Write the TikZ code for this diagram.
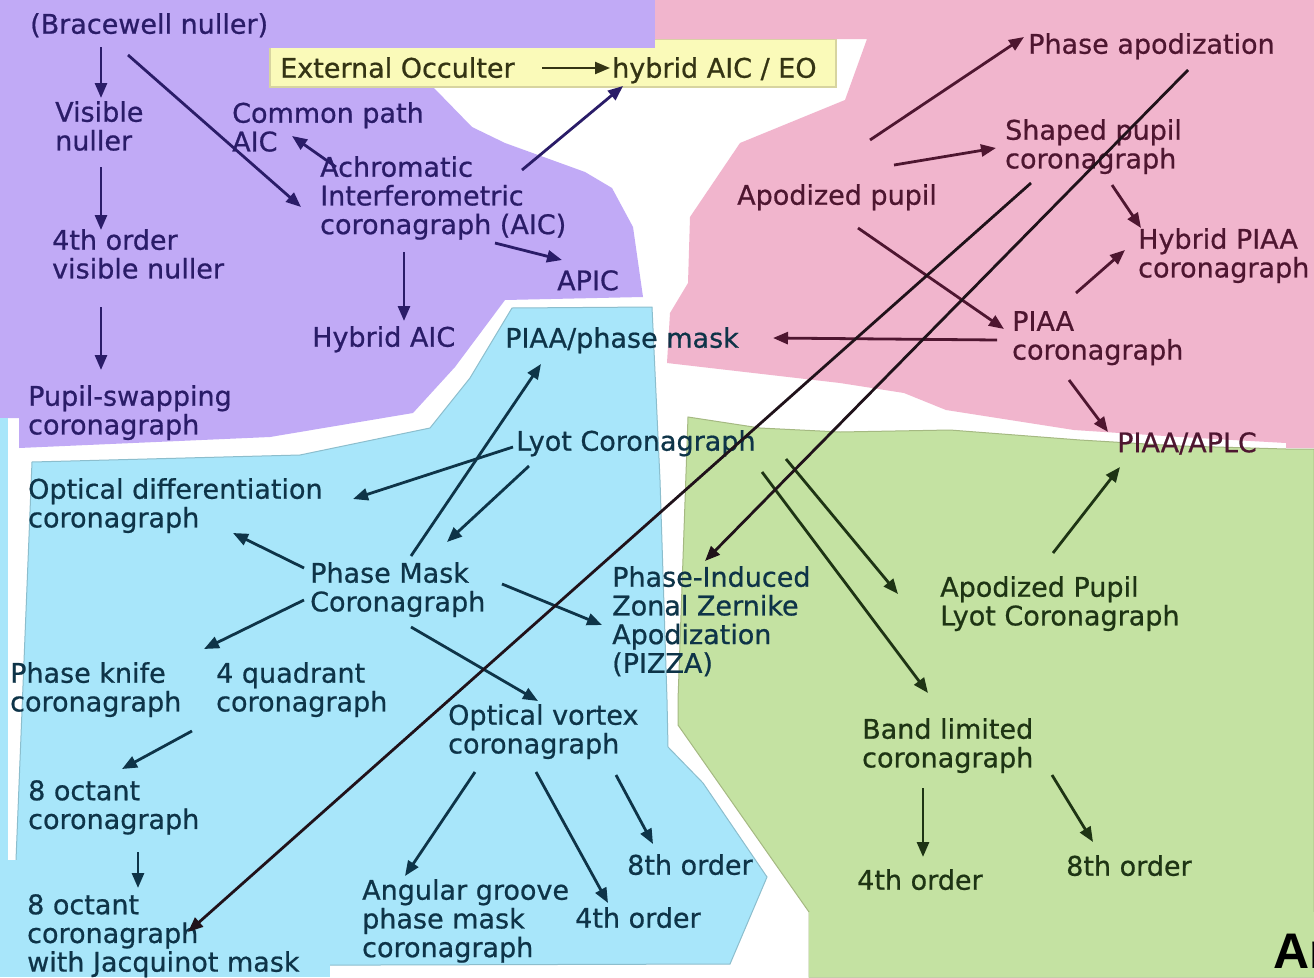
\documentclass[tikz,border=0pt]{standalone}
\usepackage{fontspec}
\setmainfont{DejaVu Sans}[FakeBold=0.7]
\newfontfamily\arfont{Liberation Sans}
\usetikzlibrary{arrows.meta}
\definecolor{purplebg}{RGB}{193,170,246}
\definecolor{pinkbg}{RGB}{241,181,205}
\definecolor{cyanbg}{RGB}{168,230,250}
\definecolor{greenbg}{RGB}{196,226,162}
\definecolor{yellowbg}{RGB}{250,250,185}
\definecolor{yellowedge}{RGB}{215,212,160}
\definecolor{purpletxt}{RGB}{42,28,104}
\definecolor{pinktxt}{RGB}{78,22,48}
\definecolor{cyantxt}{RGB}{14,52,72}
\definecolor{greentxt}{RGB}{30,52,20}
\definecolor{yellowtxt}{RGB}{52,52,20}
\definecolor{crossline}{RGB}{32,18,26}
\definecolor{cyanedge}{RGB}{140,190,205}
\definecolor{greenedge}{RGB}{165,185,130}
\tikzset{
  lbl/.style={anchor=north west, inner sep=0pt, align=left, yshift=-2pt,
    font=\fontsize{27}{28.7}\selectfont},
  ptxt/.style={lbl, text=purpletxt},
  ktxt/.style={lbl, text=pinktxt},
  ctxt/.style={lbl, text=cyantxt},
  gtxt/.style={lbl, text=greentxt},
  ytxt/.style={lbl, text=yellowtxt},
  arr/.style={line width=2.8pt, -{Triangle[length=15pt,width=12pt]}},
  parr/.style={arr, draw=purpletxt},
  karr/.style={arr, draw=pinktxt},
  carr/.style={arr, draw=cyantxt},
  garr/.style={arr, draw=greentxt},
  xarr/.style={arr, draw=crossline},
}
\begin{document}
\begin{tikzpicture}[x=1pt,y=-1pt]
\useasboundingbox (0,0) rectangle (1314,977);
\clip (0,0) rectangle (1314,977);
\fill[white] (0,0) rectangle (1314,977);

% ---------- regions ----------
\fill[purplebg] (0,0) -- (655,0) -- (655,48) -- (434,48) -- (434,88) -- (472,127)
  -- (505,143) -- (585,172) -- (612,188) -- (633,227) -- (643,297) -- (505,300)
  -- (455,367) -- (413,413) -- (270,437) -- (19,448) -- (19,418) -- (0,418) -- cycle;
\filldraw[fill=yellowbg, draw=yellowedge, line width=1.5pt] (270,39) rectangle (836,87);
\fill[purplebg] (0,0) rectangle (655,48);
\fill[pinkbg] (655,0) -- (1314,0) -- (1314,448) -- (1286,448) -- (1286,443)
  -- (1180,437) -- (1074,430) -- (946,410) -- (904,393) -- (840,383) -- (667,363)
  -- (670,313) -- (688,283) -- (690,217) -- (740,143) -- (845,100) -- (867,39)
  -- (655,39) -- cycle;
\filldraw[fill=cyanbg, draw=cyanedge, line width=1pt] (32,462) -- (300,455) -- (430,428)
  -- (470,378) -- (512,308) -- (652,307) -- (660,480) -- (667,700) -- (668,747)
  -- (703,783) -- (767,877) -- (730,964) -- (22,966) -- (16,860) -- cycle;
\fill[cyanbg] (0,418) rectangle (8,860);
\fill[cyanbg] (0,860) rectangle (330,977);
\filldraw[fill=greenbg, draw=greenedge, line width=1pt] (688,417) -- (760,428) -- (840,432)
  -- (950,430) -- (1080,440) -- (1180,446) -- (1286,449) -- (1314,449) -- (1314,977)
  -- (809,977) -- (809,912) -- (678,725) -- (678,700) -- cycle;
\fill[greenbg] (809,912) rectangle (1314,977);

% ---------- purple texts ----------
\node[ptxt] (bracewell) at (30,11) {(Bracewell nuller)};
\node[ptxt] (visible) at (55,99) {Visible\\nuller};
\node[ptxt] (common) at (232,100) {Common path\\AIC};
\node[ptxt] (aic) at (320,154) {Achromatic\\Interferometric\\coronagraph (AIC)};
\node[ptxt] (fourvis) at (52,227) {4th order\\visible nuller};
\node[ptxt] (apic) at (557,268) {APIC};
\node[ptxt] (hybaic) at (312,324) {Hybrid AIC};
\node[ptxt] (pupilswap) at (28,383) {Pupil-swapping\\coronagraph};
\node[ytxt] (extocc) at (280,55) {External Occulter};
\node[ytxt] (hybeo) at (612,55) {hybrid AIC / EO};

% ---------- pink texts ----------
\node[ktxt] (phapod) at (1028,31) {Phase apodization};
\node[ktxt] (shaped) at (1005,117) {Shaped pupil\\coronagraph};
\node[ktxt] (apodpup) at (737,182) {Apodized pupil};
\node[ktxt] (hybpiaa) at (1138,226) {Hybrid PIAA\\coronagraph};
\node[ktxt] (piaa) at (1012,309) {PIAA\\coronagraph};
\node[ktxt] (piaaaplc) at (1117,430) {PIAA/APLC};

% ---------- cyan texts ----------
\node[ctxt] (piaaphase) at (505,325) {PIAA/phase mask};
\node[ctxt] (lyot) at (516,428) {Lyot Coronagraph};
\node[ctxt] (optdiff) at (28,476) {Optical differentiation\\coronagraph};
\node[ctxt] (phasemask) at (310,560) {Phase Mask\\Coronagraph};
\node[ctxt] (knife) at (10,660) {Phase knife\\coronagraph};
\node[ctxt] (quad) at (216,660) {4 quadrant\\coronagraph};
\node[ctxt] (vortex) at (448,702) {Optical vortex\\coronagraph};
\node[ctxt] (octant) at (28,778) {8 octant\\coronagraph};
\node[ctxt] (ceighth) at (627,852) {8th order};
\node[ctxt] (groove) at (362,877) {Angular groove\\phase mask\\coronagraph};
\node[ctxt] (cfourth) at (575,905) {4th order};
\node[ctxt] (jacq) at (27,892) {8 octant\\coronagraph\\with Jacquinot mask};
\node[ctxt] (pizza) at (612,564) {Phase-Induced\\Zonal Zernike\\Apodization\\(PIZZA)};

% ---------- green texts ----------
\node[gtxt] (aplc) at (940,574) {Apodized Pupil\\Lyot Coronagraph};
\node[gtxt] (band) at (862,716) {Band limited\\coronagraph};
\node[gtxt] (gfourth) at (857,867) {4th order};
\node[gtxt] (geighth) at (1066,853) {8th order};

\node[anchor=base west, inner sep=0pt, font=\arfont\bfseries\fontsize{50}{50}\selectfont] (ar) at (1273,968) {Ar};

% ---------- connector end points ----------
\coordinate (bracewell-a) at (101,47);   \coordinate (visible-in) at (101,98);
\coordinate (bracewell-b) at (128,55);   \coordinate (aic-in) at (301,207);
\coordinate (visible-out) at (101,167);  \coordinate (fourvis-in) at (101,230);
\coordinate (fourvis-out) at (101,307);  \coordinate (pupilswap-in) at (101,370);
\coordinate (aic-a) at (336,167);        \coordinate (common-in) at (292,136);
\coordinate (aic-b) at (522,170);        \coordinate (hybeo-in) at (623,86);
\coordinate (aic-c) at (495,243);        \coordinate (apic-in) at (562,260);
\coordinate (aic-d) at (404,252);        \coordinate (hybaic-in) at (404,321);
\coordinate (extocc-out) at (542,68);    \coordinate (hybeo-w) at (610,68);

\coordinate (apodpup-a) at (870,140);    \coordinate (phapod-in) at (1024,37);
\coordinate (apodpup-b) at (894,165);    \coordinate (shaped-in) at (996,148);
\coordinate (apodpup-c) at (858,228);    \coordinate (piaa-in) at (1004,329);
\coordinate (shaped-a) at (1112,185);    \coordinate (hybpiaa-in1) at (1141,228);
\coordinate (piaa-a) at (1076,293);      \coordinate (hybpiaa-in2) at (1125,250);
\coordinate (piaa-b) at (997,340);       \coordinate (piaaphase-in) at (773,338);
\coordinate (piaa-c) at (1069,380);      \coordinate (piaaaplc-in) at (1108,432);
\coordinate (shaped-b) at (1031,183);    \coordinate (jacq-in) at (188,932);
\coordinate (phapod-out) at (1188,70);   \coordinate (pizza-in) at (705,561);

\coordinate (lyot-a) at (513,447);       \coordinate (optdiff-in1) at (353,499);
\coordinate (lyot-b) at (529,466);       \coordinate (phasemask-in) at (447,542);
\coordinate (phasemask-a) at (411,556);  \coordinate (piaaphase-in2) at (541,364);
\coordinate (phasemask-b) at (304,568);  \coordinate (optdiff-in2) at (233,533);
\coordinate (phasemask-c) at (304,600);  \coordinate (knife-in) at (204,649);
\coordinate (phasemask-d) at (502,584);  \coordinate (pizza-in2) at (602,625);
\coordinate (phasemask-e) at (411,627);  \coordinate (vortex-in) at (538,701);
\coordinate (quad-out) at (192,731);     \coordinate (octant-in) at (122,769);
\coordinate (octant-out) at (138,852);   \coordinate (jacq-in2) at (138,888);
\coordinate (vortex-a) at (475,772);     \coordinate (groove-in) at (405,876);
\coordinate (vortex-b) at (536,772);     \coordinate (cfourth-in) at (608,903);
\coordinate (vortex-c) at (616,775);     \coordinate (ceighth-in) at (653,844);

\coordinate (lyot-c) at (762,472);       \coordinate (band-in) at (928,693);
\coordinate (lyot-d) at (786,459);       \coordinate (aplc-in) at (898,594);
\coordinate (aplc-out) at (1053,553);    \coordinate (piaaaplc-in2) at (1120,467);
\coordinate (band-a) at (923,788);       \coordinate (gfourth-in) at (923,857);
\coordinate (band-b) at (1052,775);      \coordinate (geighth-in) at (1093,842);

% ---------- connectors ----------
\draw[parr] (bracewell-a) -- (visible-in);
\draw[parr] (bracewell-b) -- (aic-in);
\draw[parr] (visible-out) -- (fourvis-in);
\draw[parr] (fourvis-out) -- (pupilswap-in);
\draw[parr] (aic-a) -- (common-in);
\draw[parr] (aic-b) -- (hybeo-in);
\draw[parr] (aic-c) -- (apic-in);
\draw[parr] (aic-d) -- (hybaic-in);
\draw[arr, draw=yellowtxt, line width=2.2pt] (extocc-out) -- (hybeo-w);

\draw[karr] (apodpup-a) -- (phapod-in);
\draw[karr] (apodpup-b) -- (shaped-in);
\draw[karr] (apodpup-c) -- (piaa-in);
\draw[karr] (shaped-a) -- (hybpiaa-in1);
\draw[karr] (piaa-a) -- (hybpiaa-in2);
\draw[karr] (piaa-b) -- (piaaphase-in);
\draw[karr] (piaa-c) -- (piaaaplc-in);

\draw[carr] (lyot-a) -- (optdiff-in1);
\draw[carr] (lyot-b) -- (phasemask-in);
\draw[carr] (phasemask-a) -- (piaaphase-in2);
\draw[carr] (phasemask-b) -- (optdiff-in2);
\draw[carr] (phasemask-c) -- (knife-in);
\draw[carr] (phasemask-d) -- (pizza-in2);
\draw[carr] (phasemask-e) -- (vortex-in);
\draw[carr] (quad-out) -- (octant-in);
\draw[carr] (octant-out) -- (jacq-in2);
\draw[carr] (vortex-a) -- (groove-in);
\draw[carr] (vortex-b) -- (cfourth-in);
\draw[carr] (vortex-c) -- (ceighth-in);

\draw[garr] (lyot-c) -- (band-in);
\draw[garr] (lyot-d) -- (aplc-in);
\draw[garr] (aplc-out) -- (piaaaplc-in2);
\draw[garr] (band-a) -- (gfourth-in);
\draw[garr] (band-b) -- (geighth-in);

\draw[xarr] (shaped-b) -- (jacq-in);
\draw[xarr] (phapod-out) -- (pizza-in);
\end{tikzpicture}
\end{document}
